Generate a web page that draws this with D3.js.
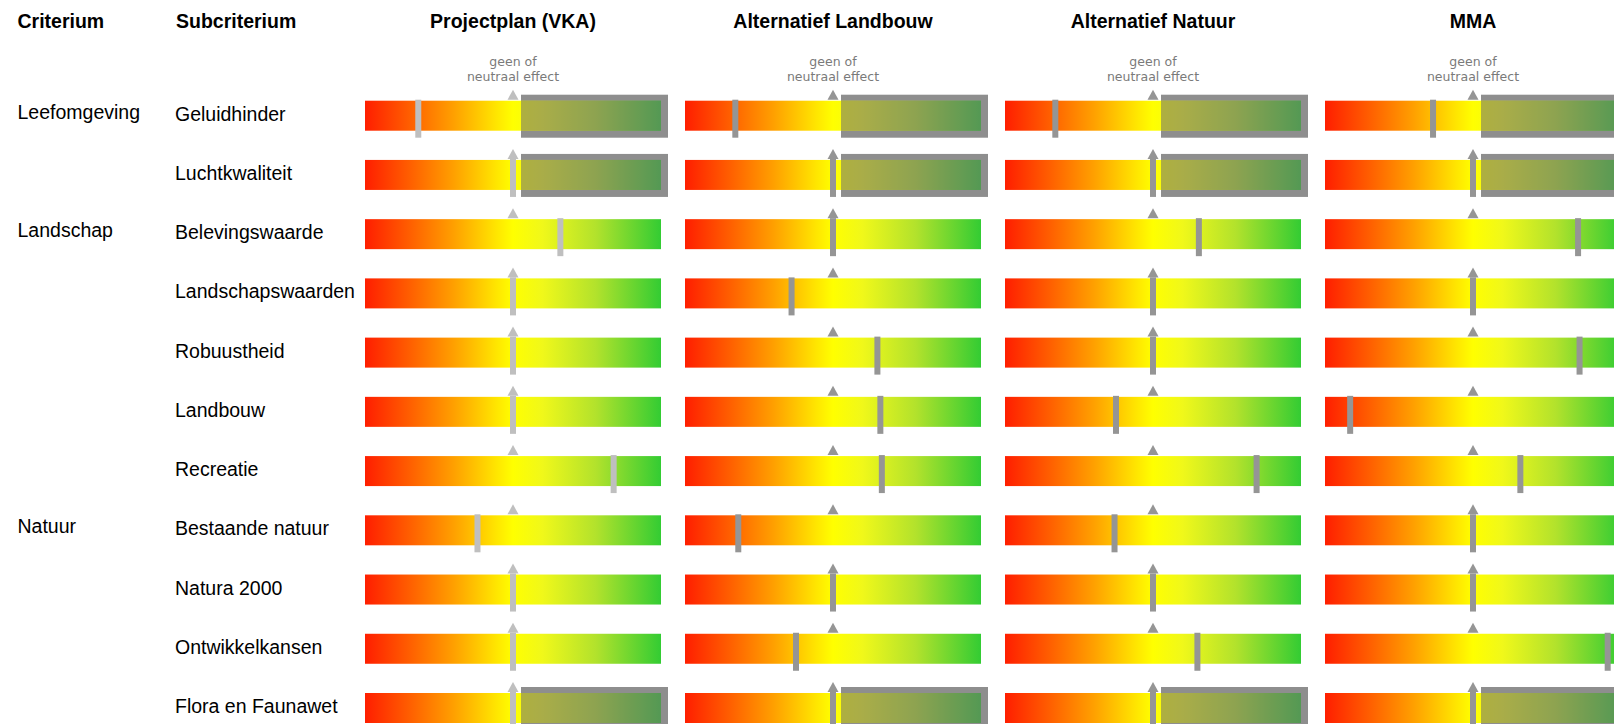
<!DOCTYPE html>
<html>
<head>
<meta charset="utf-8">
<script src="https://cdn.jsdelivr.net/npm/d3@7/dist/d3.min.js"></script>
<style>
  html, body { margin: 0; padding: 0; background: #fff; }
  svg { display: block; }
</style>
</head>
<body>
<svg id="chart" width="1614" height="724"></svg>
<script>
// ---------- data ----------
const headerLabels = ["Criterium", "Subcriterium"];
const alternatives = ["Projectplan (VKA)", "Alternatief Landbouw", "Alternatief Natuur", "MMA"];
const criteria = ["Leefomgeving", "Landschap", "Natuur"];
const criteriumStart = ["Geluidhinder", "Belevingswaarde", "Bestaande natuur"];
const subcriteria = ["Geluidhinder", "Luchtkwaliteit", "Belevingswaarde", "Landschapswaarden",
  "Robuustheid", "Landbouw", "Recreatie", "Bestaande natuur", "Natura 2000",
  "Ontwikkelkansen", "Flora en Faunawet"];
// effect score: -1 (very negative) .. 0 (geen of neutraal effect) .. +1 (very positive)
const scoresVKA      = [-0.64, 0, 0.32, 0, 0, 0, 0.68, -0.24, 0, 0, 0];
const scoresLandbouw = [-0.66, 0, 0, -0.28, 0.30, 0.32, 0.33, -0.64, 0, -0.25, 0];
const scoresNatuur   = [-0.66, 0, 0.31, 0, 0, -0.25, 0.70, -0.26, 0, 0.30, 0];
const scoresMMA      = [-0.27, 0, 0.71, 0, 0.72, -0.83, 0.32, 0, 0, 0.91, 0];
const framedRows = ["Geluidhinder", "Luchtkwaliteit", "Flora en Faunawet"];
const neutralLabel = ["geen of", "neutraal effect"];

const seriesScores = [scoresVKA, scoresLandbouw, scoresNatuur, scoresMMA];

// ---------- styles ----------
const markerColors = ["#bfbfbf", "#959595", "#959595", "#959595"];
const frameColor = "#8e8e8e";
const gradStops = [
  [0, "#ff1e00"], [0.15, "#ff5e00"], [0.3, "#ffa000"], [0.44, "#ffe400"],
  [0.5, "#ffff00"], [0.6, "#f0f81a"], [0.78, "#b2e22c"], [1, "#33cc33"]
];

// ---------- layout ----------
const svg = d3.select("#chart");
const barW = 296, barH = 30;
const colX = d3.scalePoint().domain(alternatives).range([365, 1325]);
const rowY = d3.scalePoint().domain(subcriteria).range([115.7, 708]);
const xWithin = d3.scaleLinear().domain([-1, 1]).range([0, barW]);

const defs = svg.append("defs");
const grad = defs.append("linearGradient").attr("id", "barGrad")
  .attr("x1", "0%").attr("x2", "100%").attr("y1", "0%").attr("y2", "0%");
grad.selectAll("stop").data(gradStops).join("stop")
  .attr("offset", d => d[0]).attr("stop-color", d => d[1]);

const labelFont = "'Liberation Sans', Arial, sans-serif";

// headers
svg.append("g").selectAll("text").data(headerLabels).join("text")
  .attr("x", (d, i) => i === 0 ? 17.5 : 176)
  .attr("y", 27.5)
  .attr("font-family", labelFont).attr("font-weight", "bold").attr("font-size", 19.5)
  .attr("fill", "#000").text(d => d);

svg.append("g").selectAll("text").data(alternatives).join("text")
  .attr("x", d => colX(d) + xWithin(0))
  .attr("y", 27.5).attr("text-anchor", "middle")
  .attr("font-family", labelFont).attr("font-weight", "bold").attr("font-size", 19.5)
  .attr("fill", "#000").text(d => d);

// neutral labels
alternatives.forEach(a => {
  svg.append("g").selectAll("text").data(neutralLabel).join("text")
    .attr("x", colX(a) + xWithin(0))
    .attr("y", (d, i) => 66 + i * 15)
    .attr("text-anchor", "middle")
    .attr("font-family", "'DejaVu Sans', sans-serif").attr("font-size", 12.5)
    .attr("fill", "#7a7a7a").text(d => d);
});

// criteria labels
svg.append("g").selectAll("text").data(criteria).join("text")
  .attr("x", 17.5)
  .attr("y", (d, i) => rowY(criteriumStart[i]) + 3)
  .attr("font-family", labelFont).attr("font-size", 19.5)
  .attr("fill", "#000").text(d => d);

// subcriteria labels
svg.append("g").selectAll("text").data(subcriteria).join("text")
  .attr("x", 175)
  .attr("y", d => rowY(d) + 5)
  .attr("font-family", labelFont).attr("font-size", 19.5)
  .attr("fill", "#000").text(d => d);

// cells
alternatives.forEach((alt, ci) => {
  const x0 = colX(alt);
  const g = svg.append("g");
  const mcol = markerColors[ci];
  const cells = subcriteria.map((s, ri) => ({
    s, score: seriesScores[ci][ri], framed: framedRows.includes(s), y: rowY(s)
  }));
  const nx = x0 + xWithin(0);

  // frames behind bars
  g.selectAll("rect.frame").data(cells.filter(c => c.framed)).join("rect")
    .attr("class", "frame")
    .attr("x", nx + 8)
    .attr("y", c => c.y - barH / 2 - 6)
    .attr("width", (x0 + barW + 7) - (nx + 8))
    .attr("height", barH + 13)
    .attr("fill", frameColor);

  // gradient bars
  g.selectAll("rect.bar").data(cells).join("rect")
    .attr("class", "bar")
    .attr("x", x0).attr("y", c => c.y - barH / 2)
    .attr("width", barW).attr("height", barH)
    .attr("fill", "url(#barGrad)");

  // shading inside frames
  g.selectAll("rect.shade").data(cells.filter(c => c.framed)).join("rect")
    .attr("class", "shade")
    .attr("x", nx + 8)
    .attr("y", c => c.y - barH / 2)
    .attr("width", (x0 + barW) - (nx + 8))
    .attr("height", barH)
    .attr("fill", "#707070").attr("fill-opacity", 0.55);

  // neutral triangles
  g.selectAll("path.tri").data(cells).join("path")
    .attr("class", "tri")
    .attr("d", c => {
      const top = c.y - barH / 2;
      return `M${nx - 5.5},${top - 1}L${nx + 5.5},${top - 1}L${nx},${top - 11}Z`;
    })
    .attr("fill", mcol);

  // score markers
  g.selectAll("rect.marker").data(cells).join("rect")
    .attr("class", "marker")
    .attr("x", c => x0 + xWithin(c.score) - 3)
    .attr("y", c => c.y - barH / 2 - 1)
    .attr("width", 6)
    .attr("height", barH + 8)
    .attr("fill", mcol);
});
</script>
</body>
</html>
